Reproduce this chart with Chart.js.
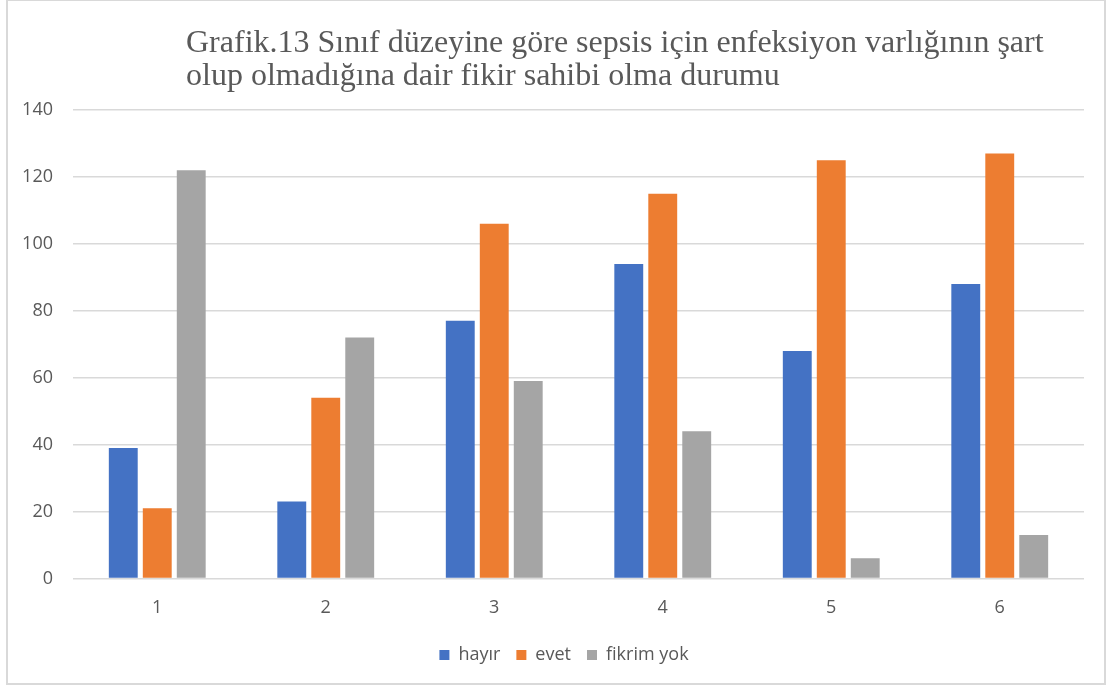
<!DOCTYPE html>
<html>
<head>
<meta charset="utf-8">
<script src="https://cdn.jsdelivr.net/npm/chart.js@4"></script>
<style>
  html, body { margin: 0; padding: 0; background: #fff; }
  #wrap { position: relative; width: 1115px; height: 691px; }
  #frame { position: absolute; left: 6px; top: -1px; width: 1100px; height: 686px; border: 2px solid #d9d9d9; box-sizing: border-box; }
  #title { position: absolute; left: 186px; top: 25px; font-family: "Liberation Serif", "Times New Roman", serif; font-size: 32px; line-height: 33px; color: #595959; white-space: nowrap; }
  canvas { position: absolute; left: 0; top: 0; }
</style>
</head>
<body>
<div id="wrap">
  <div id="frame"></div>
  <canvas id="chart" width="1115" height="691"></canvas>
  <div id="title">Grafik.13 Sınıf düzeyine göre sepsis için enfeksiyon varlığının şart<br>olup olmadığına dair fikir sahibi olma durumu</div>
</div>
<script>
let categories = ["1", "2", "3", "4", "5", "6"];
let hayir = [39, 23, 77, 94, 68, 88];
let evet = [21, 54, 106, 115, 125, 127];
let fikrimYok = [122, 72, 59, 44, 6, 13];
let yTicks = [0, 20, 40, 60, 80, 100, 120, 140];

let font = { family: "'Open Sans', 'Liberation Sans', sans-serif", size: 18 };

// legend sits a bit right of the canvas centre in the original
let legendShift = {
  id: "legendShift",
  afterLayout(chart) {
    chart.legend.left += 22;
    chart.legend.right += 22;
  }
};

let ctx = document.getElementById("chart");
let chart = new Chart(ctx,
{
  type: "bar",
  data: {
    labels: categories,
    datasets: [
      { label: "hayır", data: hayir, backgroundColor: "#4472C4" },
      { label: "evet", data: evet, backgroundColor: "#ED7D31" },
      { label: "fikrim yok", data: fikrimYok, backgroundColor: "#A5A5A5" }
    ]
  },
  plugins: [legendShift],
  options: {
    responsive: false,
    animation: false,
    categoryPercentage: 0.605,
    barPercentage: 0.85,
    layout: { padding: { top: 110, right: 31, bottom: 17, left: 0 } },
    plugins: {
      title: { display: false },
      tooltip: { enabled: false },
      legend: {
        position: "bottom",
        labels: { boxWidth: 10, boxHeight: 10, color: "#595959", font: font, padding: 16 }
      }
    },
    scales: {
      x: {
        grid: { display: false },
        border: { display: false },
        ticks: { color: "#595959", font: font, padding: 11 }
      },
      y: {
        min: 0,
        max: 140,
        afterFit: function(scale) { scale.width = 73; },
        afterBuildTicks: function(scale) { scale.ticks = yTicks.map(v => ({ value: v })); },
        grid: { color: "#d9d9d9", lineWidth: 1.5, drawTicks: false },
        border: { display: false },
        ticks: { color: "#595959", font: font, padding: 20 }
      }
    }
  }
});
</script>
</body>
</html>
